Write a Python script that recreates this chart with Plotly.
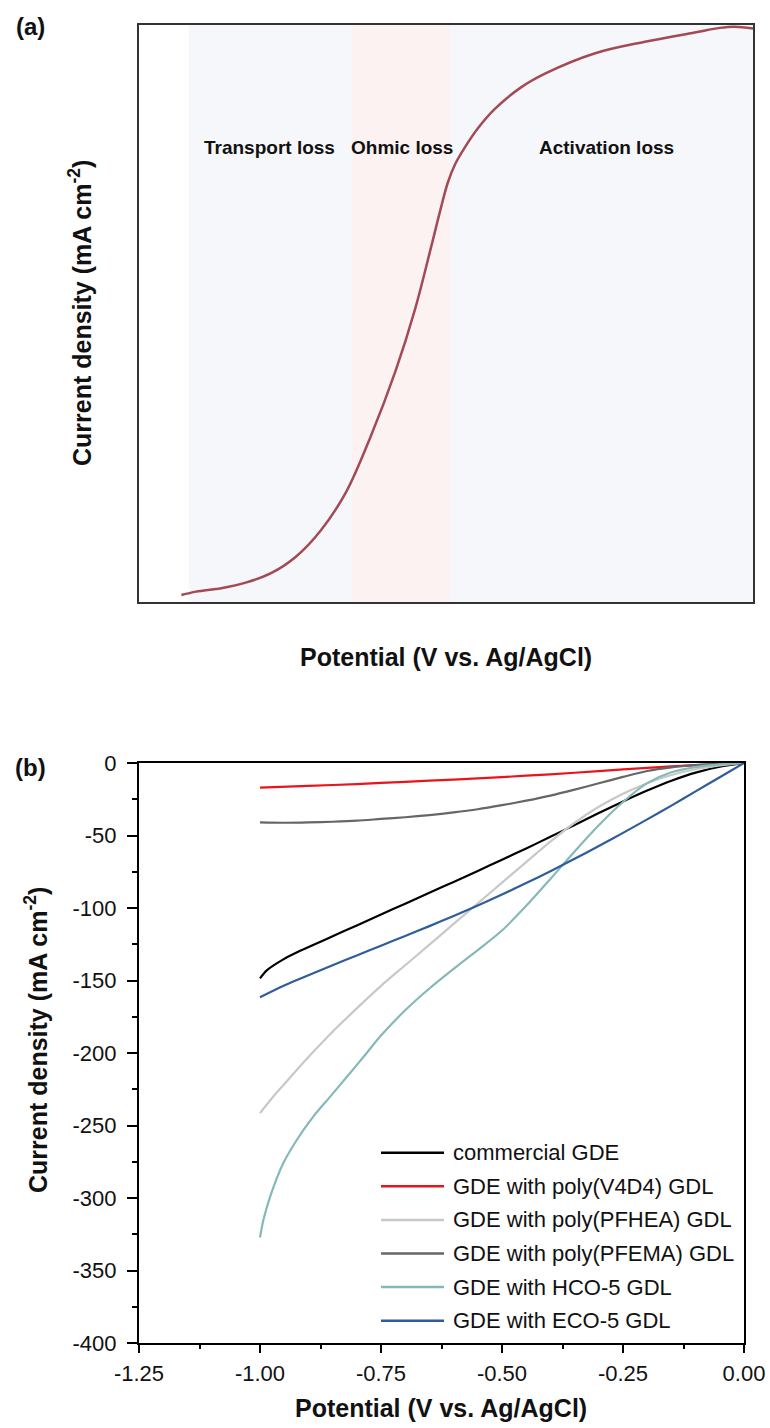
import plotly.graph_objects as go

W, H = 770, 1428
FONT = "Liberation Sans, Arial, Helvetica, sans-serif"

# ---------------- Panel (a): schematic polarization curve (normalised units) ----------------
a_potential = [0.069, 0.093, 0.134, 0.175, 0.215, 0.256, 0.296, 0.337, 0.377, 0.418,
               0.450, 0.475, 0.491, 0.503, 0.515, 0.532, 0.552, 0.580, 0.621, 0.662,
               0.743, 0.824, 0.905, 0.946, 0.970, 1.000]
a_current = [0.012, 0.018, 0.024, 0.034, 0.050, 0.079, 0.124, 0.190, 0.286, 0.401,
             0.509, 0.612, 0.680, 0.727, 0.759, 0.790, 0.821, 0.855, 0.891, 0.916,
             0.951, 0.971, 0.987, 0.995, 0.997, 0.994]
loss_band = [0.081, 1.000]      # light blue-grey shaded band
ohmic_band = [0.347, 0.507]     # light pink shaded band
loss_labels = ["Transport loss", "Ohmic loss", "Activation loss"]
loss_label_x = [0.212, 0.428, 0.761]
loss_label_y = 0.788

# ---------------- Panel (b): LSV curves ----------------
x_black = [-1.0, -0.986, -0.95, -0.917, -0.85, -0.8, -0.75, -0.7, -0.65, -0.6, -0.55, -0.5,
           -0.45, -0.4, -0.35, -0.3, -0.25, -0.2, -0.15, -0.1, -0.05, 0.0]
y_black = [-148.5, -143.0, -135.1, -129.5, -119.5, -112.0, -104.5, -97.0, -89.5, -82.0, -74.4, -66.7,
           -58.9, -50.9, -42.7, -34.5, -26.5, -19.0, -12.2, -6.6, -2.6, 0.0]

x_red = [-1.0, -0.9, -0.8, -0.7, -0.6, -0.5, -0.4, -0.3, -0.2, -0.1, 0.0]
y_red = [-17.0, -15.8, -14.5, -13.0, -11.4, -9.7, -7.8, -5.6, -3.3, -1.4, 0.0]

x_lgray = [-1.0, -0.975, -0.95, -0.9, -0.85, -0.8, -0.75, -0.7, -0.65, -0.6, -0.55, -0.5,
           -0.45, -0.4, -0.35, -0.3, -0.25, -0.2, -0.15, -0.1, -0.05, 0.0]
y_lgray = [-241.5, -231.0, -221.5, -202.8, -185.3, -169.2, -153.7, -139.5, -125.3, -111.0, -96.8, -82.5,
           -68.3, -54.2, -41.2, -30.2, -21.2, -13.9, -8.3, -4.3, -1.7, 0.0]

x_dgray = [-1.0, -0.95, -0.9, -0.85, -0.8, -0.75, -0.7, -0.65, -0.6, -0.55, -0.5,
           -0.45, -0.4, -0.35, -0.3, -0.25, -0.2, -0.15, -0.1, -0.05, 0.0]
y_dgray = [-41.0, -41.2, -41.0, -40.5, -39.8, -38.6, -37.4, -35.9, -34.1, -31.9, -29.1,
           -26.0, -22.5, -18.4, -14.0, -9.6, -5.5, -3.0, -1.5, -0.6, 0.0]

x_teal = [-1.0, -0.993, -0.979, -0.952, -0.924, -0.89, -0.855, -0.82, -0.786, -0.75, -0.7, -0.65,
          -0.6, -0.55, -0.5, -0.45, -0.4, -0.35, -0.3, -0.25, -0.2, -0.15, -0.1, -0.05, 0.0]
y_teal = [-327.2, -315.2, -299.1, -276.1, -260.0, -243.9, -230.1, -216.2, -202.6, -188.0, -170.5, -155.5,
          -142.0, -129.0, -115.5, -98.5, -80.0, -61.0, -42.9, -26.9, -13.9, -6.4, -2.9, -0.9, 0.0]

x_blue = [-1.0, -0.95, -0.9, -0.85, -0.8, -0.75, -0.7, -0.65, -0.6, -0.55, -0.5,
          -0.45, -0.4, -0.35, -0.3, -0.25, -0.2, -0.15, -0.1, -0.05, 0.0]
y_blue = [-161.5, -153.4, -146.4, -139.5, -132.7, -126.0, -119.3, -112.5, -105.5, -98.3, -90.7,
          -82.8, -74.6, -66.1, -57.3, -48.2, -38.9, -29.4, -19.6, -9.8, 0.0]

series_names = ["commercial GDE", "GDE with poly(V4D4) GDL", "GDE with poly(PFHEA) GDL",
                "GDE with poly(PFEMA) GDL", "GDE with HCO-5 GDL", "GDE with ECO-5 GDL"]
series_x = [x_black, x_red, x_lgray, x_dgray, x_teal, x_blue]
series_y = [y_black, y_red, y_lgray, y_dgray, y_teal, y_blue]
series_colors = ["#000000", "#e8141c", "#c8c8c8", "#666666", "#86b8b8", "#2f5d9b"]

x_tickvals = [-1.25, -1.00, -0.75, -0.50, -0.25, 0.00]
x_ticktext = ["-1.25", "-1.00", "-0.75", "-0.50", "-0.25", "0.00"]
y_tickvals = [0, -50, -100, -150, -200, -250, -300, -350, -400]
y_ticktext = ["0", "-50", "-100", "-150", "-200", "-250", "-300", "-350", "-400"]


def px(x):
    return x / W


def py(y):
    return 1 - y / H


fig = go.Figure()

# panel (a) curve
fig.add_trace(go.Scatter(x=a_potential, y=a_current, mode="lines", xaxis="x", yaxis="y",
                         line=dict(color="#a24a55", width=2.5, shape="spline", smoothing=1.0),
                         showlegend=False, hoverinfo="skip"))

# panel (b) curves
for name, xs, ys, c in zip(series_names, series_x, series_y, series_colors):
    fig.add_trace(go.Scatter(x=xs, y=ys, mode="lines", name=name, xaxis="x2", yaxis="y2",
                             line=dict(color=c, width=2.2, shape="spline", smoothing=0.8),
                             showlegend=False))

shapes = []
# shaded bands in panel (a)
shapes.append(dict(type="rect", xref="x", yref="y", x0=loss_band[0], x1=loss_band[1], y0=0, y1=1,
                   fillcolor="#f6f7fb", line=dict(width=0), layer="below"))
shapes.append(dict(type="rect", xref="x", yref="y", x0=ohmic_band[0], x1=ohmic_band[1], y0=0, y1=1,
                   fillcolor="#fdf2f2", line=dict(width=0), layer="below"))

annotations = []
for t, xv in zip(loss_labels, loss_label_x):
    annotations.append(dict(x=xv, y=loss_label_y, xref="x", yref="y", text="<b>" + t + "</b>",
                            showarrow=False, font=dict(family=FONT, size=19, color="#111"),
                            xanchor="center", yanchor="middle"))

# manual legend for panel (b)
leg_top, leg_step = 1152.7, 33.6
for i, (name, c) in enumerate(zip(series_names, series_colors)):
    yy = leg_top + i * leg_step
    shapes.append(dict(type="line", xref="paper", yref="paper", x0=px(381), x1=px(444),
                       y0=py(yy), y1=py(yy), line=dict(color=c, width=2.5)))
    annotations.append(dict(x=px(451), y=py(yy), xref="paper", yref="paper", text=name,
                            showarrow=False, xanchor="left", yanchor="middle",
                            font=dict(family=FONT, size=22, color="#111")))


def label(x, y, text, size, angle=0):
    return dict(x=px(x), y=py(y), xref="paper", yref="paper", text=text, showarrow=False,
                textangle=angle, xanchor="center", yanchor="middle",
                font=dict(family=FONT, size=size, color="#111"))


# panel labels and axis titles
annotations += [
    label(30, 26, "<b>(a)</b>", 24),
    label(30, 767, "<b>(b)</b>", 24),
    label(446, 657, "<b>Potential (V vs. Ag/AgCl)</b>", 25),
    label(441, 1408, "<b>Potential (V vs. Ag/AgCl)</b>", 25),
    label(80, 313, "<b>Current density (mA cm<sup>-2</sup>)</b>", 25, -90),
    label(36, 1040, "<b>Current density (mA cm<sup>-2</sup>)</b>", 25, -90),
]

fig.update_layout(
    width=W, height=H, margin=dict(l=0, r=0, t=0, b=0, autoexpand=False),
    paper_bgcolor="white", plot_bgcolor="white",
    font=dict(family=FONT, color="#111"),
    shapes=shapes, annotations=annotations,
    xaxis=dict(domain=[px(139), px(753)], range=[0, 1], showgrid=False, zeroline=False,
               showticklabels=False, ticks="", showline=True, mirror=True, linecolor="#333",
               linewidth=2, anchor="y", fixedrange=True, automargin=False),
    yaxis=dict(domain=[py(602), py(25)], range=[0, 1], showgrid=False, zeroline=False,
               showticklabels=False, ticks="", showline=True, mirror=True, linecolor="#333",
               linewidth=2, anchor="x", fixedrange=True, automargin=False),
    xaxis2=dict(domain=[px(139), px(744)], range=[-1.25, 0], showgrid=False, zeroline=False,
                tickvals=x_tickvals, ticktext=x_ticktext, ticks="outside", ticklen=8, tickwidth=1.8,
                tickcolor="black", showline=True, mirror=True, linecolor="black", linewidth=2,
                tickfont=dict(family=FONT, size=22, color="#111"), anchor="y2", automargin=False,
                minor=dict(dtick=0.125, tick0=-1.25, ticks="outside", ticklen=4, tickwidth=1.5,
                           tickcolor="black"),
                ticklabelstandoff=2),
    yaxis2=dict(domain=[py(1343), py(763)], range=[-400, 0], showgrid=False, zeroline=False,
                tickvals=y_tickvals, ticktext=y_ticktext, ticks="outside", ticklen=10, tickwidth=1.8,
                tickcolor="black", showline=True, mirror=True, linecolor="black", linewidth=2,
                tickfont=dict(family=FONT, size=22, color="#111"), anchor="x2", automargin=False,
                minor=dict(dtick=25, tick0=0, ticks="outside", ticklen=5, tickwidth=1.5,
                           tickcolor="black"),
                ticklabelstandoff=6),
)

fig.write_html("out.html")
